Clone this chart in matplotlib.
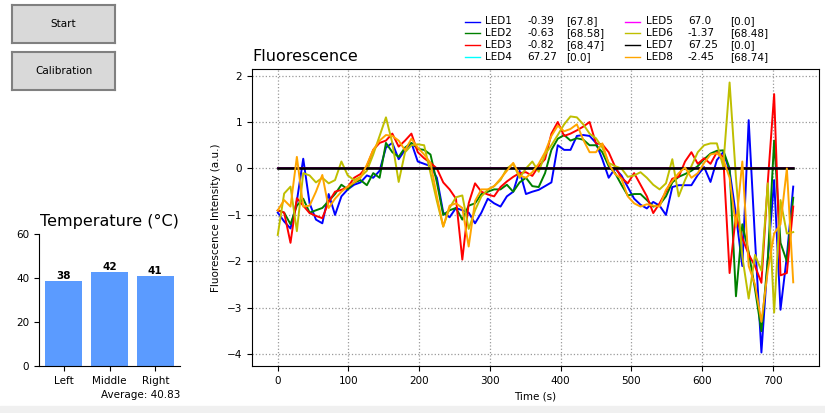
import numpy as np
import matplotlib
matplotlib.use("Agg")
import matplotlib.pyplot as plt
from matplotlib.lines import Line2D
from matplotlib.patches import Rectangle

# ---- data -------------------------------------------------------------
times = np.arange(0, 730, 9)  # sampling instants (s)

led1 = [-0.95, -1.14, -1.29, -0.70, 0.21, -0.75, -1.10, -1.18, -0.55, -1.00,
        -0.60, -0.45, -0.35, -0.30, -0.15, -0.20, -0.05, 0.45, 0.55, 0.20,
        0.40, 0.55, 0.15, 0.10, 0.05, -0.20, -0.95, -1.05, -0.85, -0.90,
        -0.95, -1.18, -0.95, -0.65, -0.75, -0.82, -0.60, -0.50, -0.05, -0.55,
        -0.50, -0.46, -0.38, -0.30, 0.50, 0.40, 0.40, 0.70, 0.72, 0.70,
        0.55, 0.20, -0.20, 0.00, -0.15, -0.40, -0.65, -0.78, -0.86, -0.72,
        -0.80, -1.00, -0.40, -0.36, -0.36, -0.36, -0.14, 0.03, -0.29, 0.18,
        0.35, -0.05, -1.00, -2.10, 1.04, -1.54, -3.96, -1.96, -0.25, -3.04,
        -1.89, -0.39]
led2 = [-0.90, -0.95, -1.20, -0.80, -0.65, -0.95, -0.90, -0.85, -0.70, -0.55,
        -0.35, -0.45, -0.30, -0.25, -0.36, -0.10, -0.20, 0.55, 0.35, 0.25,
        0.45, 0.55, 0.42, 0.40, 0.30, -0.30, -1.00, -0.90, -0.85, -1.10,
        -0.80, -0.75, -0.55, -0.50, -0.45, -0.45, -0.35, -0.50, -0.30, -0.20,
        -0.38, -0.40, -0.10, 0.40, 0.64, 0.72, 0.60, 0.65, 0.62, 0.50,
        0.50, 0.35, 0.05, -0.10, -0.35, -0.58, -0.55, -0.55, -0.68, -0.82,
        -0.78, -0.60, -0.30, -0.18, -0.12, -0.05, 0.05, 0.20, 0.32, 0.38,
        0.39, 0.00, -2.75, -1.20, -1.80, -2.60, -3.50, -1.96, 0.60, -1.60,
        -2.00, -0.63]
led3 = [-0.90, -0.95, -1.60, -0.64, -0.80, -0.96, -1.02, -1.07, -0.72, -0.50,
        -0.46, -0.40, -0.20, -0.12, 0.05, 0.40, 0.55, 0.60, 0.75, 0.47,
        0.60, 0.75, 0.35, 0.22, 0.12, 0.00, -0.30, -0.45, -0.65, -1.96,
        -0.75, -0.32, -0.50, -0.56, -0.60, -0.40, -0.28, -0.18, -0.10, -0.08,
        -0.16, 0.05, 0.20, 0.75, 1.00, 0.70, 0.75, 0.82, 0.90, 1.00,
        0.54, 0.52, 0.35, 0.04, -0.20, -0.32, -0.10, -0.35, -0.60, -0.96,
        -0.75, -0.50, -0.22, -0.18, 0.15, 0.35, 0.10, 0.22, 0.10, 0.35,
        0.25, -2.25, -1.00, -1.50, -1.85, -2.10, -2.46, -0.30, 1.60, -2.30,
        -2.25, -0.82]
led4 = [0.0] * 82
led5 = [0.0] * 82
led6 = [-1.43, -0.54, -0.39, -1.35, -0.10, -0.15, -0.30, -0.20, -0.32, -0.25,
        0.15, -0.15, -0.25, -0.18, -0.05, 0.30, 0.70, 1.10, 0.55, -0.29,
        0.35, 0.50, 0.52, 0.50, -0.10, -0.70, -1.25, -0.85, -0.62, -0.58,
        -1.30, -0.90, -0.60, -0.46, -0.38, -0.25, 0.00, 0.10, -0.20, 0.00,
        0.15, -0.07, 0.30, 0.50, 0.72, 0.95, 1.12, 1.10, 0.95, 0.75,
        0.65, 0.45, 0.12, 0.05, 0.00, -0.18, -0.15, -0.08, -0.20, -0.35,
        -0.45, -0.32, 0.20, -0.60, -0.25, 0.05, 0.35, 0.50, 0.54, 0.54,
        0.04, 1.85, -0.20, -1.90, -2.80, -1.86, -2.20, -0.32, -3.10, -0.68,
        -1.40, -1.37]
led7 = [0.0] * 82
led8 = [-0.90, -0.68, -0.82, 0.25, -0.82, -0.80, -0.50, -0.14, -0.85, -0.65,
        -0.50, -0.39, -0.30, -0.20, 0.08, 0.40, 0.60, 0.72, 0.70, 0.60,
        0.39, 0.64, 0.45, 0.30, 0.12, -0.60, -1.25, -0.80, -0.75, -0.85,
        -1.68, -0.70, -0.45, -0.45, -0.38, -0.22, -0.05, 0.12, -0.15, -0.20,
        -0.08, 0.10, 0.35, 0.70, 0.92, 0.80, 0.85, 0.95, 0.62, 0.35,
        0.35, 0.54, 0.10, -0.12, -0.22, -0.60, -0.75, -0.82, -0.77, -0.80,
        -0.82, -0.46, -0.27, -0.10, 0.02, -0.20, -0.10, 0.12, 0.30, 0.33,
        0.20, -0.20, -1.25, 0.15, -2.10, -2.50, -3.30, -2.20, -1.40, -1.20,
        0.00, -2.45]

led_names = ["LED1", "LED2", "LED3", "LED4", "LED5", "LED6", "LED7", "LED8"]
led_colors = ["blue", "green", "red", "cyan", "magenta", "#bfbf00", "black", "orange"]
led_readings = ["-0.39", "-0.63", "-0.82", "67.27", "67.0", "-1.37", "67.25", "-2.45"]
led_refs = ["[67.8]", "[68.58]", "[68.47]", "[0.0]", "[0.0]", "[68.48]", "[0.0]", "[68.74]"]
led_series = [led1, led2, led3, led4, led5, led6, led7, led8]

zones = ["Left", "Middle", "Right"]
temps = [38.6, 42.9, 41.0]

# ---- figure -----------------------------------------------------------
W, H = 825, 413
fig = plt.figure(figsize=(W / 100, H / 100), dpi=100)
fig.patch.set_facecolor("white")
fig.add_artist(Rectangle((0, 0), 1, 7 / H, transform=fig.transFigure,
                         color="#f0f0f0", zorder=0))

FS = 7.5

# control buttons
for label, top_px in [("Start", 5), ("Calibration", 52)]:
    bax = fig.add_axes([12 / W, 1 - (top_px + 38) / H, 103 / W, 38 / H])
    bax.set_facecolor("#d9d9d9")
    bax.set_xticks([])
    bax.set_yticks([])
    for s in bax.spines.values():
        s.set_color("#808080")
        s.set_linewidth(1.5)
    bax.text(0.5, 0.5, label, ha="center", va="center", fontsize=FS,
             transform=bax.transAxes)

# temperature bars
tax = fig.add_axes([39 / W, 47 / H, 141 / W, 132 / H])
tax.bar(zones, temps, color="#5b9bff", width=0.8)
tax.set_ylim(0, 60)
tax.set_yticks([0, 20, 40, 60])
tax.spines["top"].set_visible(False)
tax.spines["right"].set_visible(False)
tax.tick_params(labelsize=FS)
tax.set_title("Temperature (°C)", fontsize=11.5)
for i, v in enumerate(temps):
    tax.text(i, v, f"{int(v)}", ha="center", va="bottom", fontsize=FS,
             fontweight="bold")
tax.text(1.0, -0.22, f"Average: {np.mean(temps):.2f}", transform=tax.transAxes,
         ha="right", va="center", fontsize=FS)

# fluorescence traces
fax = fig.add_axes([252 / W, 47 / H, 567 / W, 297 / H])
for vals, color in zip(led_series, led_colors):
    fax.plot(times, vals, color=color, lw=1.9 if color == "black" else 1.4)
fax.grid(True, linestyle=":", color="0.6", lw=0.9)
fax.tick_params(labelsize=FS)
fax.set_title("Fluorescence", loc="left", fontsize=11.5)
fax.set_xlabel("Time (s)", fontsize=FS)
fax.set_ylabel("Fluorescence Intensity (a.u.)", fontsize=FS)

# legend block above the plot
row_y = [21.5, 33.3, 45.0, 56.7]
col_x = [(465, 485, 527, 566), (625, 646, 688, 730)]
for k, (name, color, reading, ref) in enumerate(
        zip(led_names, led_colors, led_readings, led_refs)):
    col, row = divmod(k, 4)
    hx, nx, vx, rx = col_x[col]
    y = 1 - row_y[row] / H
    fig.add_artist(Line2D([hx / W, (hx + 15) / W], [y, y], color=color, lw=1.0,
                          transform=fig.transFigure))
    fig.text(nx / W, y, name, fontsize=FS, va="center")
    fig.text(vx / W, y, reading, fontsize=FS, va="center")
    fig.text(rx / W, y, ref, fontsize=FS, va="center")

fig.savefig("out.png", dpi=100)
